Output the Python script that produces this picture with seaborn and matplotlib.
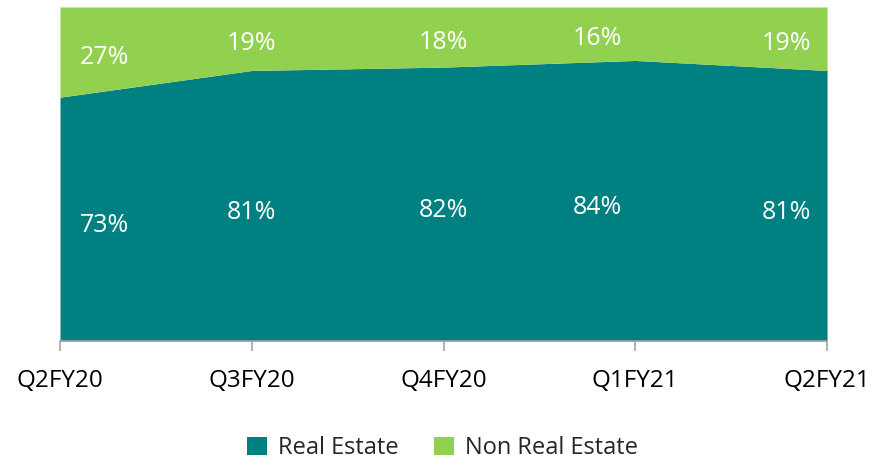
"""100% stacked area: Real Estate vs Non Real Estate share."""

import matplotlib
matplotlib.use('Agg')
import matplotlib.pyplot as plt
import seaborn as sns
import numpy as np

sns.set_theme(style="white")
plt.rcParams['font.family'] = ['Open Sans', 'DejaVu Sans']

quarters = ['Q2FY20', 'Q3FY20', 'Q4FY20', 'Q1FY21', 'Q2FY21']
real_estate = [73, 81, 82, 84, 81]
non_real_estate = [27, 19, 18, 16, 19]

teal = '#008080'
green = '#92D050'

fig = plt.figure(figsize=(8.85, 4.61), dpi=100)
ax = fig.add_axes([0.0678, 0.2603, 0.8667, 0.7245])

x = np.arange(len(quarters))
ax.stackplot(x, real_estate, non_real_estate, colors=[teal, green],
             labels=['Real Estate', 'Non Real Estate'], linewidth=0)

# label x shifts so the edge labels sit inside the plot
label_x = [0.23, 1.0, 2.0, 2.8, 3.79]
for xi, re, nre in zip(label_x, real_estate, non_real_estate):
    ax.text(xi, re / 2 - 2, f'{re}%', ha='center', va='center',
            color='white', fontsize=18)
    ax.text(xi, re + nre / 2 - 1.5, f'{nre}%', ha='center', va='center',
            color='white', fontsize=18)

ax.set_xlim(0, len(quarters) - 1)
ax.set_ylim(0, 100)
ax.set_xticks(x)
ax.set_xticklabels(quarters, fontsize=17.5)
ax.set_yticks([])
for side in ['top', 'right', 'left']:
    ax.spines[side].set_visible(False)
ax.spines['bottom'].set_color('#A6A6A6')
ax.spines['bottom'].set_linewidth(1.2)
ax.tick_params(axis='x', bottom=True, direction='out', length=7,
               width=1.2, color='#A6A6A6', pad=13, labelcolor='black')

handles, labels = ax.get_legend_handles_labels()
fig.legend(handles, labels, loc='center', bbox_to_anchor=(0.5, 0.028),
           ncol=2, frameon=False, fontsize=17, handlelength=0.85,
           handleheight=0.85, columnspacing=1.5, handletextpad=0.45)

plt.savefig('out.png', dpi=100)
plt.close()
